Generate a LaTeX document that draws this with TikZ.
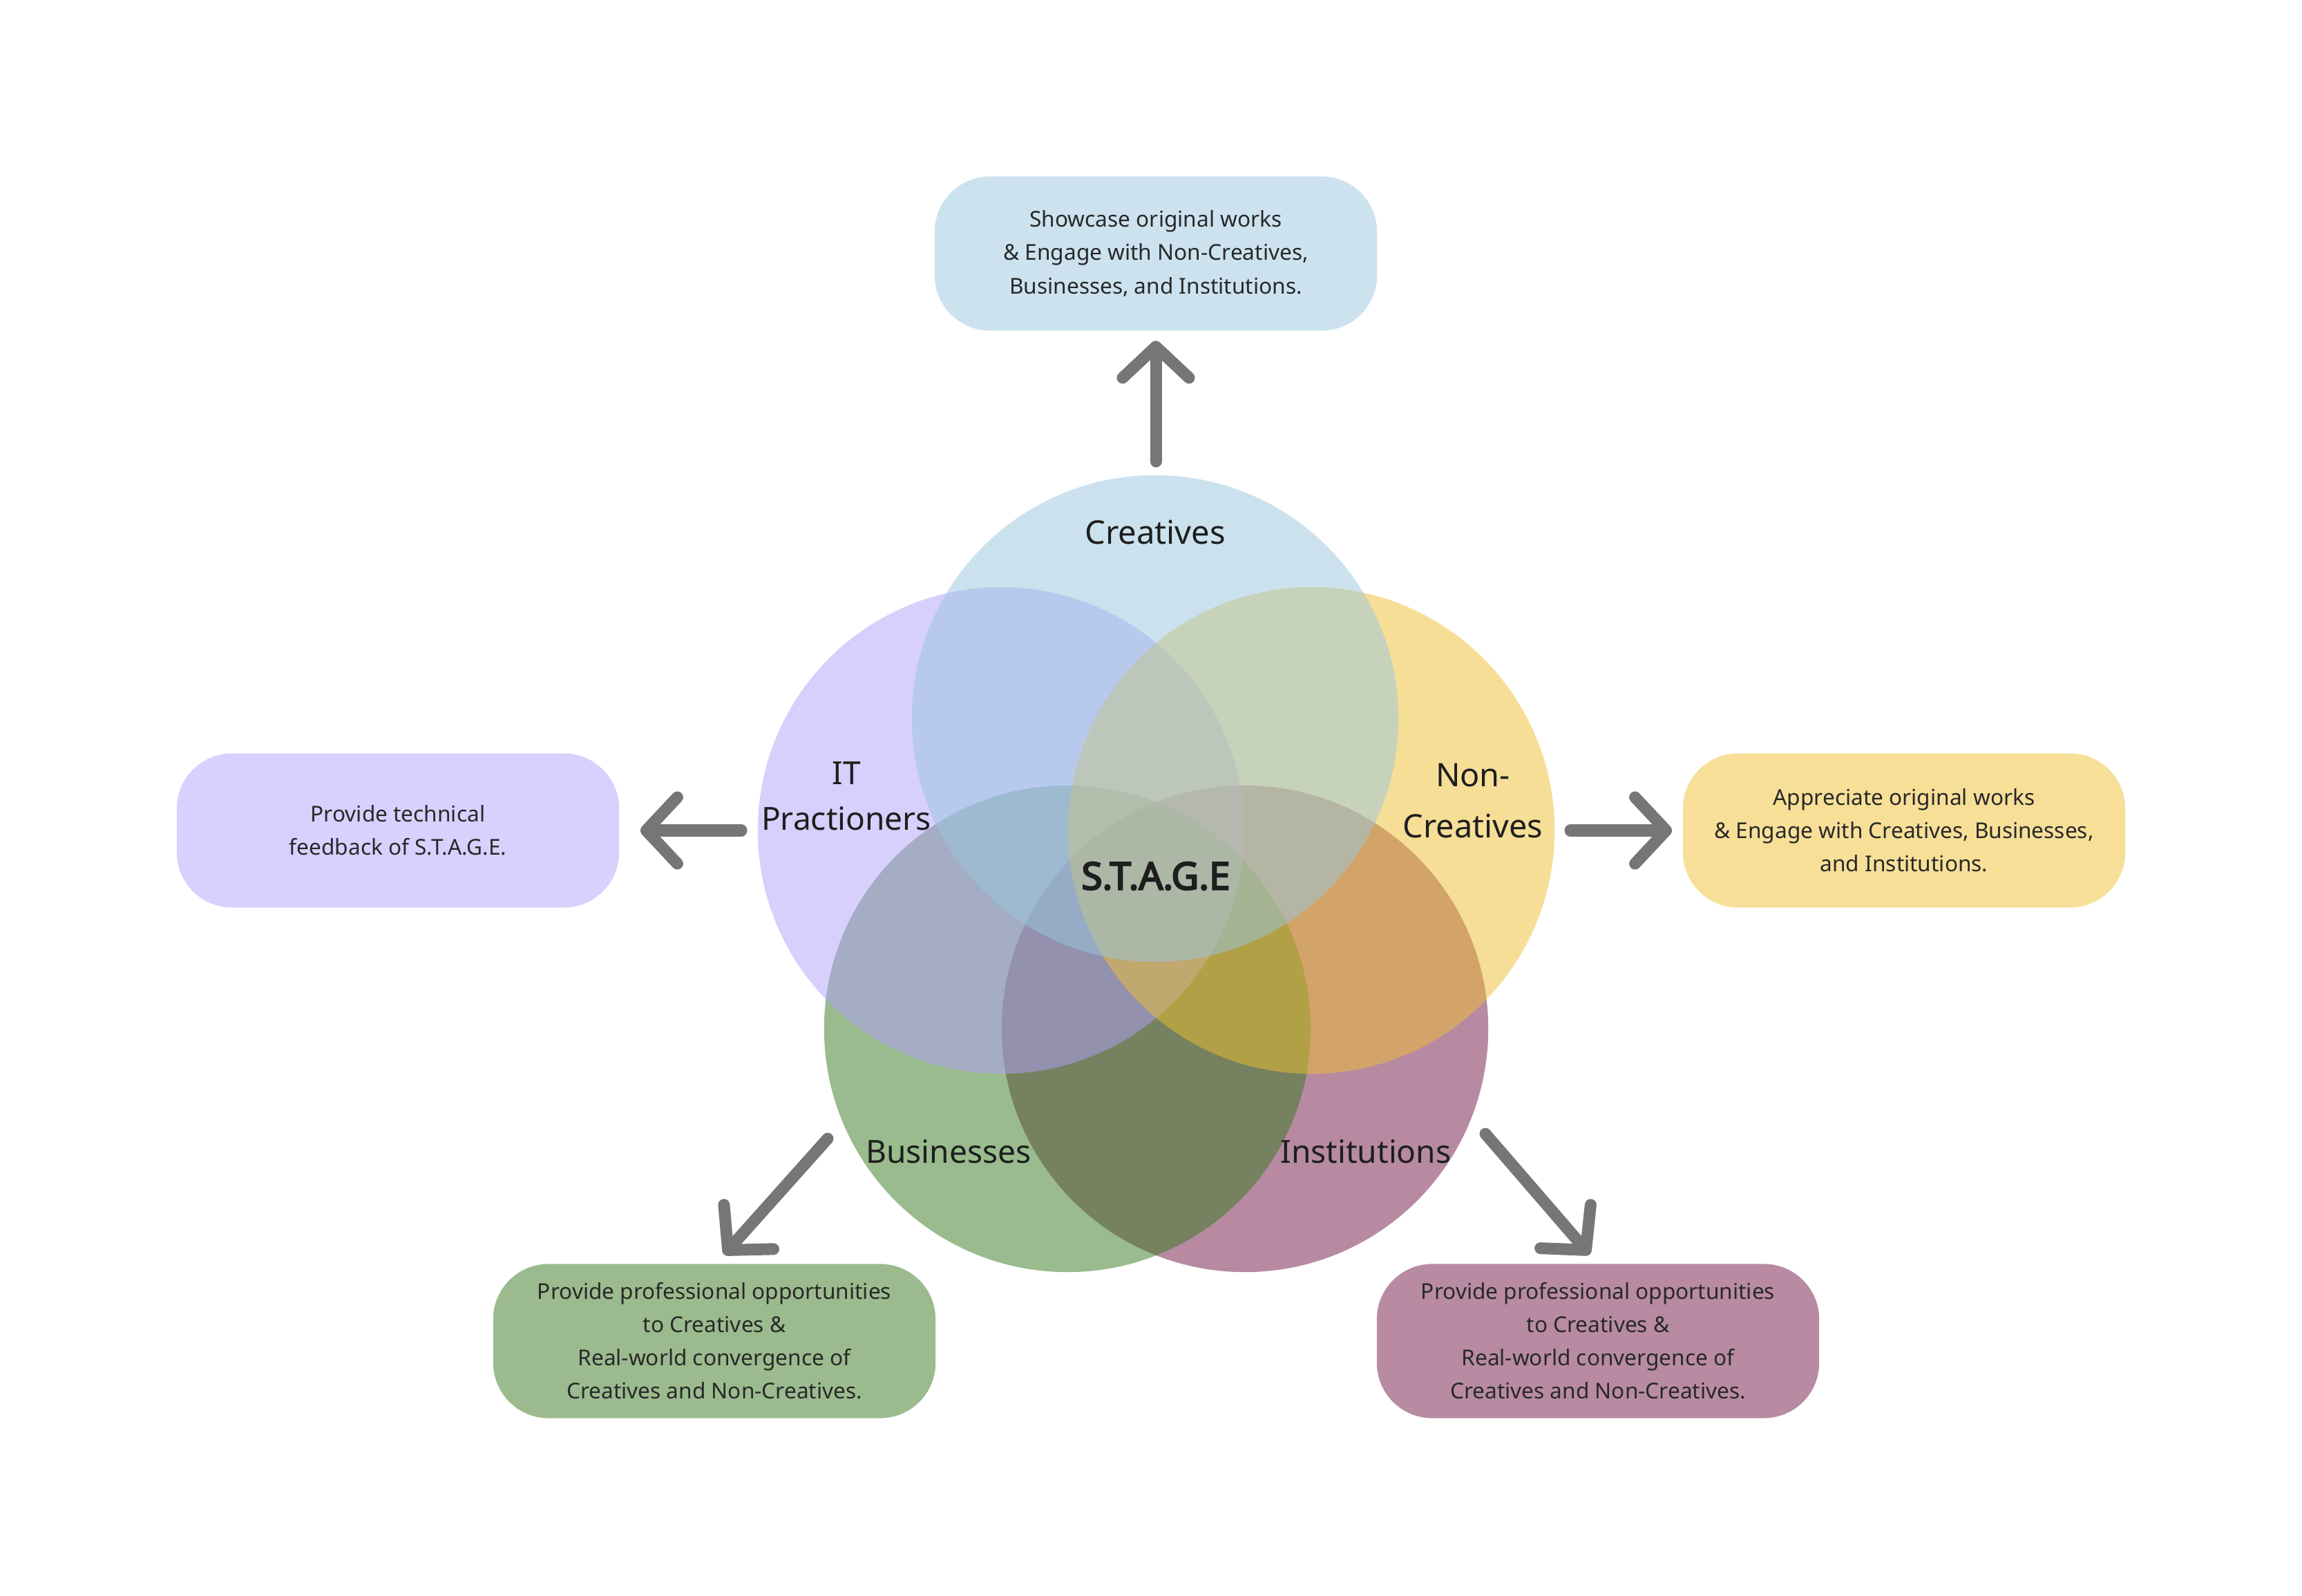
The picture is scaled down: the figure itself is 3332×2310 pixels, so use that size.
\documentclass[tikz,border=0pt]{standalone}
\usepackage{fontspec}
\setmainfont{Noto Sans}
\newfontfamily\stagefont{Noto Sans}[FakeBold=4]
\usetikzlibrary{arrows.meta}
\definecolor{cCre}{RGB}{153,199,223}
\definecolor{cIT}{RGB}{177,161,251}
\definecolor{cNC}{RGB}{239,191,49}
\definecolor{cBus}{RGB}{55,121,29}
\definecolor{cInst}{RGB}{113,23,71}
\definecolor{bCre}{RGB}{204,227,239}
\definecolor{bIT}{RGB}{216,208,253}
\definecolor{bNC}{RGB}{247,223,152}
\definecolor{bBus}{RGB}{155,187,142}
\definecolor{bInst}{RGB}{184,139,163}
\definecolor{lbltext}{RGB}{30,30,30}
\definecolor{boxtext}{RGB}{40,40,40}
\definecolor{arrowgray}{RGB}{118,118,118}
\begin{document}
\begin{tikzpicture}[x=0.01cm, y=-0.01cm,
  venn/.style={circle, minimum size=7.04cm, inner sep=0pt, fill opacity=0.5},
  infobox/.style={rounded corners=0.8cm, minimum width=6.4cm, minimum height=2.23cm, inner sep=0pt, align=center, text=boxtext, font=\fontsize{8.99pt}{13.66pt}\selectfont},
  lbl/.style={text=lbltext, align=center, inner sep=0pt, font=\fontsize{13.1pt}{18.8pt}\selectfont},
  conn/.style={line width=0.17cm, draw=arrowgray, line cap=round, -{Straight Barb[length=0.45cm, width=0.96cm, round]}}
]
\fill[white] (0,0) rectangle (3332,2310);
\useasboundingbox (0,0) rectangle (3332,2310);

% Venn circles (bottom to top)
\node[venn, fill=cInst] (inst) at (1802,1489) {};
\node[venn, fill=cBus] (bus) at (1545,1489) {};
\node[venn, fill=cIT] (it) at (1449,1202) {};
\node[venn, fill=cNC] (nc) at (1898,1202) {};
\node[venn, fill=cCre] (cre) at (1672,1040) {};

% Labels
\node[lbl, font=\fontsize{13.4pt}{18.8pt}\selectfont] (lCre) at (1672,770) {Creatives};
\node[lbl] (lIT) at (1225,1152) {IT\\Practioners};
\node[lbl, font=\fontsize{13.3pt}{20.8pt}\selectfont] (lNC) at (2132,1159) {Non-\\Creatives};
\node[lbl, font=\stagefont\fontsize{15.6pt}{18pt}\selectfont] (lStage) at (1673,1268) {S.T.A.G.E};
\node[lbl] (lBus) at (1373,1667) {Businesses};
\node[lbl] (lInst) at (1977,1667) {Institutions};

% Boxes
\node[infobox, fill=bCre] (topbox) at (1673,367) {Showcase original works\\\& Engage with Non-Creatives,\\Businesses, and Institutions.};
\node[infobox, fill=bIT] (lbox) at (576,1202) {Provide technical\\feedback of S.T.A.G.E.};
\node[infobox, fill=bNC] (rbox) at (2756,1202) {Appreciate original works\\\& Engage with Creatives, Businesses,\\and Institutions.};
\node[infobox, fill=bBus] (blbox) at (1034,1941) {Provide professional opportunities\\to Creatives \&\\Real-world convergence of\\Creatives and Non-Creatives.};
\node[infobox, fill=bInst] (brbox) at (2313,1941) {Provide professional opportunities\\to Creatives \&\\Real-world convergence of\\Creatives and Non-Creatives.};

% Connectors
\coordinate (tTop) at (1673,668);
\coordinate (tLeft) at (1073,1202);
\coordinate (tRight) at (2273,1202);
\coordinate (tBL) at (1198,1648);
\coordinate (tBR) at (2150,1641);
\draw[conn] (tTop) -- ([yshift=-0.14cm]topbox.south);
\draw[conn] (tLeft) -- ([xshift=0.30cm]lbox.east);
\draw[conn] (tRight) -- ([xshift=-0.15cm]rbox.west);
\draw[conn] (tBL) -- ([xshift=0.14cm,yshift=0.13cm]blbox.north);
\draw[conn] (tBR) -- ([xshift=-0.12cm,yshift=0.13cm]brbox.north);
\end{tikzpicture}
\end{document}
